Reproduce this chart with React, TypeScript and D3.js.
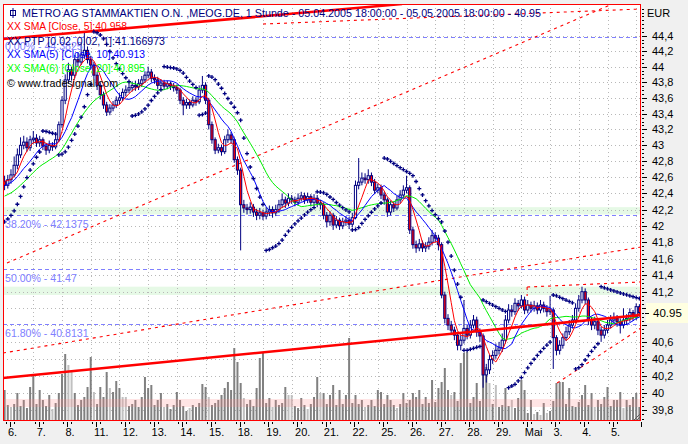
import React from 'react';
import * as d3 from 'd3';

const W = 688, H = 444;
const PL = 3, PR = 641, PT = 4, PB = 421;

const dayLabels = ["6.","7.","8.","11.","12.","13.","14.","15.","18.","19.","20.","21.","22.","25.","26.","27.","28.","29.","Mai","3.","4.","5."];
const barsPerDay = 9;
const firstDayBar = 2;

const opens = [
42.55,42.50,42.57,42.63,42.75,42.88,43.00,43.04,42.97,43.07,
43.09,43.03,43.07,42.99,42.94,43.00,42.98,43.07,43.26,43.57,
43.83,43.96,43.89,44.09,44.06,44.15,44.21,44.09,44.02,43.89,
43.76,43.64,43.51,43.42,43.47,43.51,43.57,43.60,43.67,43.70,
43.73,43.76,43.74,43.78,43.83,43.89,43.93,43.85,43.83,43.76,
43.79,43.75,43.78,43.75,43.73,43.70,43.57,43.51,43.54,43.51,
43.57,43.55,43.70,43.76,43.57,43.26,43.07,42.94,42.97,42.92,
43.07,43.13,43.07,42.82,42.69,42.26,42.22,42.20,42.23,42.17,
42.13,42.16,42.12,42.17,42.20,42.16,42.20,42.26,42.32,42.28,
42.34,42.32,42.29,42.34,42.37,42.32,42.36,42.29,42.34,42.28,
42.26,42.13,42.05,42.13,42.01,42.07,42.00,42.05,42.07,42.02,
42.10,42.50,42.54,42.59,42.57,42.62,42.54,42.44,42.47,42.38,
42.32,42.17,42.26,42.22,42.32,42.38,42.44,42.47,41.95,41.77,
41.73,41.78,41.73,41.75,41.80,41.88,41.85,41.77,41.16,40.88,
40.80,40.74,40.68,40.56,40.62,40.76,40.68,40.80,40.86,40.72,
40.67,40.21,40.27,40.39,40.44,40.50,40.53,40.62,40.86,40.98,
40.96,41.06,41.03,41.10,40.98,41.04,41.00,41.03,40.98,41.04,
41.00,40.96,40.98,40.65,40.50,40.56,40.65,40.72,40.80,40.86,
41.00,41.10,41.20,41.10,40.86,40.80,40.84,40.74,40.68,40.74,
40.80,40.86,40.88,40.84,40.80,40.86,40.88,40.95,40.90,41.02
];

const highs = [
42.62,42.63,42.70,42.86,42.96,43.10,43.12,43.10,43.12,43.18,
43.14,43.12,43.10,43.03,43.06,43.04,43.12,43.30,43.62,43.90,
44.05,44.00,44.15,44.18,44.30,44.45,44.26,44.14,44.06,43.93,
43.80,43.68,43.55,43.52,43.56,43.62,43.66,43.72,43.76,43.79,
43.81,43.82,43.84,43.88,43.94,44.00,43.97,43.90,43.87,43.84,
43.83,43.82,43.81,43.79,43.77,43.73,43.61,43.59,43.58,43.62,
43.61,43.76,43.88,43.80,43.60,43.30,43.10,43.02,43.01,43.12,
43.20,43.17,43.10,42.86,42.72,42.32,42.27,42.29,42.27,42.21,
42.22,42.20,42.23,42.25,42.24,42.26,42.32,42.40,42.36,42.40,
42.38,42.36,42.40,42.42,42.41,42.41,42.39,42.39,42.38,42.32,
42.29,42.17,42.18,42.16,42.12,42.10,42.10,42.12,42.11,42.16,
42.56,42.84,42.66,42.65,42.70,42.66,42.58,42.52,42.51,42.42,
42.35,42.31,42.30,42.37,42.44,42.50,42.62,42.50,41.99,41.82,
41.84,41.82,41.80,41.86,41.95,41.92,41.89,41.80,41.20,40.93,
40.85,40.78,40.72,40.68,41.10,40.80,40.86,40.92,40.90,40.76,
40.70,40.34,40.45,40.50,40.58,40.60,40.70,40.92,41.05,41.04,
41.12,41.10,41.16,41.14,41.10,41.08,41.09,41.07,41.10,41.08,
41.04,41.15,41.01,40.68,40.62,40.70,40.78,40.86,40.92,41.06,
41.16,41.26,41.24,41.13,40.90,40.90,40.88,40.78,40.80,40.86,
40.92,40.95,40.92,40.88,41.00,40.93,41.00,40.98,41.06,41.05
];

const lows = [
42.44,42.46,42.52,42.60,42.70,42.84,42.95,42.92,42.93,43.02,
42.98,42.98,42.94,42.88,42.90,42.93,42.95,43.04,43.22,43.52,
43.78,43.82,43.85,44.00,44.02,44.10,44.04,43.96,43.84,43.70,
43.58,43.46,43.37,43.38,43.43,43.47,43.52,43.56,43.62,43.66,
43.68,43.69,43.70,43.74,43.79,43.85,43.80,43.78,43.71,43.72,
43.70,43.71,43.70,43.68,43.65,43.52,43.38,43.46,43.46,43.48,
43.50,43.52,43.66,43.52,43.20,43.02,42.89,42.90,42.87,42.89,
43.03,43.02,42.78,42.63,41.70,42.16,42.14,42.15,42.11,42.07,
42.08,42.07,42.08,42.12,42.10,42.12,42.16,42.22,42.22,42.24,
42.27,42.24,42.25,42.30,42.27,42.28,42.24,42.25,42.23,42.20,
42.08,41.98,42.00,41.95,41.97,41.95,41.96,42.00,41.96,41.98,
42.08,42.45,42.50,42.52,42.52,42.49,42.39,42.40,42.33,42.26,
42.11,42.13,42.17,42.19,42.28,42.34,42.40,41.90,41.72,41.67,
41.69,41.68,41.68,41.71,41.76,41.80,41.70,41.12,40.82,40.74,
40.68,40.62,40.50,40.50,40.58,40.63,40.64,40.76,40.66,40.60,
40.06,40.12,40.22,40.34,40.40,40.45,40.48,40.58,40.82,40.90,
40.92,40.97,41.00,40.93,40.94,40.95,40.96,40.93,40.94,40.95,
40.90,40.92,40.28,40.44,40.45,40.52,40.61,40.68,40.76,40.82,
40.96,41.06,41.05,40.80,40.74,40.75,40.68,40.60,40.64,40.70,
40.76,40.82,40.78,40.70,40.76,40.80,40.84,40.85,40.86,40.90
];

const closes = [
42.50,42.57,42.63,42.75,42.88,43.00,43.04,42.97,43.07,43.09,
43.03,43.07,42.99,42.94,43.00,42.98,43.07,43.26,43.57,43.83,
43.96,43.89,44.09,44.06,44.15,44.21,44.09,44.02,43.89,43.76,
43.64,43.51,43.42,43.47,43.51,43.57,43.60,43.67,43.70,43.73,
43.76,43.74,43.78,43.83,43.89,43.93,43.85,43.83,43.76,43.79,
43.75,43.78,43.75,43.73,43.70,43.57,43.51,43.54,43.51,43.57,
43.55,43.70,43.76,43.57,43.26,43.07,42.94,42.97,42.92,43.07,
43.13,43.07,42.82,42.69,42.26,42.22,42.20,42.23,42.17,42.13,
42.16,42.12,42.17,42.20,42.16,42.20,42.26,42.32,42.28,42.34,
42.32,42.29,42.34,42.37,42.32,42.36,42.29,42.34,42.28,42.26,
42.13,42.05,42.13,42.01,42.07,42.00,42.05,42.07,42.02,42.10,
42.50,42.54,42.59,42.57,42.62,42.54,42.44,42.47,42.38,42.32,
42.17,42.26,42.22,42.32,42.38,42.44,42.47,41.95,41.77,41.73,
41.78,41.73,41.75,41.80,41.88,41.85,41.77,41.16,40.88,40.80,
40.74,40.68,40.56,40.62,40.76,40.68,40.80,40.86,40.72,40.67,
40.21,40.27,40.39,40.44,40.50,40.53,40.62,40.86,40.98,40.96,
41.06,41.03,41.10,40.98,41.04,41.00,41.03,40.98,41.04,41.00,
40.96,40.98,40.65,40.50,40.56,40.65,40.72,40.80,40.86,41.00,
41.10,41.20,41.10,40.86,40.80,40.84,40.74,40.68,40.74,40.80,
40.86,40.88,40.84,40.80,40.86,40.88,40.95,40.90,41.02,40.95
];

// closes of the hours before the visible range (feed the moving averages)
const priorCloses = [42.18,42.22,42.20,42.25,42.28,42.24,42.26,42.22,42.27,42.28,42.35,42.42,42.46,42.45,42.50,42.52,42.55,42.58,42.60];

const volumes = [
31,16,14,17,28,15,21,13,34,47,
17,31,21,15,26,12,18,28,47,67,
56,49,28,16,21,24,34,64,29,17,
34,24,49,33,29,40,33,24,24,15,
17,21,14,24,44,33,36,16,21,28,
14,17,12,16,29,21,15,10,13,16,
14,18,37,34,24,16,18,21,26,33,
39,31,73,59,38,23,17,21,15,33,
63,68,18,23,14,21,16,18,34,26,
26,15,13,23,16,12,17,24,44,28,
28,17,26,36,16,31,17,26,83,18,
26,17,21,14,16,21,15,31,29,17,
26,21,16,13,17,28,18,21,28,24,
31,17,24,18,41,19,33,39,53,31,
26,29,20,58,68,69,18,24,38,20,
54,54,38,17,36,14,16,33,15,21,
13,23,41,31,8,21,7,9,6,18,
8,10,20,38,39,39,17,33,15,14,
19,26,36,16,28,14,21,17,24,34,
15,21,21,29,13,21,16,24,28,14
];
const lightVolumeBars = [2,15,20,21,28,33,37,38,50,58,64,75,84,89,90,95,99,113,123,140,152,154,159,166,168,170,185,194];

const priceTicks = [44.4,44.2,44,43.8,43.6,43.4,43.2,43,42.8,42.6,42.4,42.2,42,41.8,41.6,41.4,41.2,41,40.8,40.6,40.4,40.2,40,39.8];
const priceTickLabels = ["44,4","44,2","44","43,8","43,6","43,4","43,2","43","42,8","42,6","42,4","42,2","42","41,8","41,6","41,4","41,2","41","40,8","40,6","40,4","40,2","40","39,8"];

const fibLevels = [44.3825, 42.1375, 41.47, 40.8131];
const fibLabels = ["0.00% - 44.3825", "38.20% - 42.1375", "50.00% - 41.47", "61.80% - 40.8131"];
const zoneLow = [42.14, 41.16];
const zoneHigh = [42.23, 41.26];
const volumeBand = [14, 22];

// trend lines: [bar1, price1, bar2, price2]
const thickTrendLines = [[-0.5, 40.174, 199.5, 40.92], [-0.5, 44.357, 124.6, 44.812]];
const dashedTrendLines = [
  [0.75, 41.547, 190.4, 44.81],
  [-0.5, 40.468, 199.5, 41.741],
  [81, 44.551, 199.5, 44.747],
  [163.8, 41.256, 199.5, 41.317],
  [163.8, 41.256, 163.8, 41.148],
  [173.2, 40.115, 199.5, 40.765],
];

const sarParams = { step: 0.02, max: 0.2, startSar: 42.05, startEp: 42.62, startAf: 0.06 };

const legendTexts = [
  "XX SMA [Close, 5]:40.958",
  "XX PTP [0.02, 0.02, 1]:41.166973",
  "XX SMA(5) [Close, 10]:40.913",
  "XX SMA(6) [Close, 20]:40.895",
  "\u00A9 www.tradesignal.com",
];
const titleText = "METRO AG STAMMAKTIEN O.N. ,MEOG.DE, 1 Stunde - 05.04.2005 18:00:00 - 05.05.2005 18:00:00 - 40.95";
const lastPriceLabel = "40.95";
const lastPrice = 40.95;

function psar(h: number[], l: number[]) {
  let up = true;
  let af = sarParams.startAf, ep = sarParams.startEp, sar = sarParams.startSar;
  const out: number[] = [];
  for (let i = 0; i < h.length; i++) {
    if (i > 0) {
      sar = sar + af * (ep - sar);
      if (up) {
        sar = Math.min(sar, l[i - 1], i > 1 ? l[i - 2] : l[i - 1]);
        if (l[i] < sar) { up = false; sar = ep; ep = l[i]; af = sarParams.step; }
        else if (h[i] > ep) { ep = h[i]; af = Math.min(af + sarParams.step, sarParams.max); }
      } else {
        sar = Math.max(sar, h[i - 1], i > 1 ? h[i - 2] : h[i - 1]);
        if (h[i] > sar) { up = true; sar = ep; ep = h[i]; af = sarParams.step; }
        else if (l[i] < ep) { ep = l[i]; af = Math.min(af + sarParams.step, sarParams.max); }
      }
    }
    out.push(sar);
  }
  return out;
}

export default function App() {
  const n = closes.length;
  const x = d3.scaleLinear().domain([-0.5, n - 0.5]).range([PL, PR]);
  const y = d3.scaleLog().domain([39.8, 44.4]).range([410, 35.65]);
  const vy = d3.scaleLinear().domain([0, 91]).range([PB, PB - 91]);

  const all = [...priorCloses, ...closes];
  const sma = (len: number) => closes.map((_, i) => d3.mean(all.slice(i + priorCloses.length - len + 1, i + priorCloses.length + 1)) as number);
  const sma5 = sma(5), sma10 = sma(10), sma20 = sma(20);
  const line = d3.line<number>().x((_, i) => x(i)).y((d) => y(d));
  const sar = psar(highs, lows);

  const font = "'Liberation Sans', Arial, sans-serif";
  const grid = "#b8b8b8";
  const navy = "#000080";

  const dayTicks = dayLabels.map((_, k) => x(firstDayBar + k * barsPerDay) - 1);
  const vGrid = dayLabels.map((_, k) => x(firstDayBar + 7 + k * barsPerDay));
  const minorTicks = d3.range(39.7, 44.8, 0.05);
  const boxY = Math.round(y(lastPrice)) - 10;

  return (
    <svg width={W} height={H} style={{ position: 'absolute', left: 0, top: 0, fontFamily: font }}>
      <defs>
        <clipPath id="plotClip"><rect x={PL} y={PT} width={PR - PL} height={PB - PT} /></clipPath>
      </defs>
      <rect width={W} height={H} fill="#f0f0f0" />
      <rect x={PL} y={PT} width={PR - PL} height={PB - PT} fill="#ffffff" />
      <g clipPath="url(#plotClip)">
        {zoneLow.map((lo, k) => (
          <rect key={'z' + k} x={PL} width={PR - PL} y={y(zoneHigh[k])} height={y(lo) - y(zoneHigh[k])} fill="#e6f9e6" />
        ))}
        {priceTicks.map((p) => (
          <line key={'hg' + p} x1={PL} x2={PR} y1={Math.round(y(p)) + 0.5} y2={Math.round(y(p)) + 0.5} stroke={grid} strokeDasharray="1,3" />
        ))}
        {vGrid.map((gx, k) => (
          <line key={'vg' + k} x1={Math.round(gx) + 0.5} x2={Math.round(gx) + 0.5} y1={PT} y2={PB} stroke={grid} strokeDasharray="1,3" />
        ))}
        {fibLevels.map((f) => (
          <line key={'f' + f} x1={PL} x2={PR} y1={Math.round(y(f)) + 0.5} y2={Math.round(y(f)) + 0.5} stroke="#8080ff" strokeDasharray="4,3" />
        ))}
        {volumes.map((v, i) => (
          <rect key={'v' + i} x={x(i) - 1} width={2} y={vy(v)} height={PB - vy(v)}
            fill={lightVolumeBars.includes(i) ? "#c0c0c0" : "#808080"} />
        ))}
        <rect x={PL} width={PR - PL} y={vy(volumeBand[1])} height={vy(volumeBand[0]) - vy(volumeBand[1])} fill="#ff8888" opacity={0.22} />
        {dashedTrendLines.map((t, k) => (
          <line key={'dt' + k} x1={x(t[0])} y1={y(t[1])} x2={x(t[2])} y2={y(t[3])} stroke="#ff0000" strokeWidth={1.1} strokeDasharray="3,4" />
        ))}
        {closes.map((c, i) => {
          const o = opens[i];
          const top = y(Math.max(o, c)), bot = y(Math.min(o, c));
          const cx = x(i);
          return (
            <g key={'c' + i}>
              <line x1={cx} x2={cx} y1={y(highs[i])} y2={y(lows[i])} stroke={navy} strokeWidth={1} />
              <rect x={cx - 1.1} width={2.2} y={top} height={Math.max(bot - top, 0.6)} fill={c < o ? "#ff0000" : "#ffffff"} stroke={navy} strokeWidth={1} />
            </g>
          );
        })}
        <path d={line(sma20) || ''} fill="none" stroke="#00ee00" strokeWidth={1} />
        <path d={line(sma10) || ''} fill="none" stroke="#0000ff" strokeWidth={1} />
        <path d={line(sma5) || ''} fill="none" stroke="#ff0000" strokeWidth={1} />
        {thickTrendLines.map((t, k) => (
          <line key={'tt' + k} x1={x(t[0])} y1={y(t[1])} x2={x(t[2])} y2={y(t[3])} stroke="#ff0000" strokeWidth={2.6} />
        ))}
        {sar.map((s, i) => {
          const sx = x(i), sy = y(s);
          return <path key={'s' + i} d={`M${sx - 2},${sy}h4M${sx},${sy - 2}v4`} stroke={navy} strokeWidth={1.3} fill="none" />;
        })}
        <path d={`M${PR - 7},${PB - 1}L${PR - 1},${PB - 7}M${PR - 4},${PB - 1}L${PR - 1},${PB - 4}`} stroke="#606060" strokeWidth={1} />
      </g>
      <rect x={PL + 0.5} y={PT + 0.5} width={PR - PL - 1} height={PB - PT - 1} fill="none" stroke="#ff0000" strokeWidth={1} />

      {fibLevels.map((f, k) => (
        <text key={'fl' + k} x={5} y={Math.round(y(f)) + 12.5} fontSize={10.6} fill="#8080ff">{fibLabels[k]}</text>
      ))}

      {/* title & legend */}
      <g stroke={navy} fill="none" strokeWidth={1}>
        <rect x={10.5} y={10.5} width={5} height={5} />
        <line x1={13} x2={13} y1={8} y2={18} />
      </g>
      <text x={22} y={17} fontSize={11} fill={navy} textLength={519} lengthAdjust="spacingAndGlyphs">{titleText}</text>
      <text x={7} y={30} fontSize={11} fill="#ff0000" textLength={120} lengthAdjust="spacingAndGlyphs">{legendTexts[0]}</text>
      <text x={7} y={45} fontSize={11} fill={navy} textLength={158} lengthAdjust="spacingAndGlyphs">{legendTexts[1]}</text>
      <text x={7} y={58} fontSize={11} fill="#0000ff" textLength={138} lengthAdjust="spacingAndGlyphs">{legendTexts[2]}</text>
      <text x={7} y={72} fontSize={11} fill="#00ff00" textLength={138} lengthAdjust="spacingAndGlyphs">{legendTexts[3]}</text>
      <text x={7} y={87} fontSize={11} fill="#000000" textLength={111} lengthAdjust="spacingAndGlyphs">{legendTexts[4]}</text>

      {/* right axis */}
      <text x={647} y={17} fontSize={11} fill="#000">EUR</text>
      {minorTicks.map((m, k) => (
        y(m) > PT && y(m) < PB ? <line key={'mt' + k} x1={642} x2={644} y1={Math.round(y(m)) + 0.5} y2={Math.round(y(m)) + 0.5} stroke="#000" /> : null
      ))}
      {priceTicks.map((p, k) => {
        const ty = y(p);
        const hidden = ty > boxY - 4 && ty < boxY + 24;
        return (
          <g key={'pt' + k}>
            <line x1={642} x2={647} y1={Math.round(ty) + 0.5} y2={Math.round(ty) + 0.5} stroke="#000" />
            {hidden ? null : <text x={652} y={ty + 4} fontSize={11} fill="#000">{priceTickLabels[k]}</text>}
          </g>
        );
      })}
      <rect x={646} y={boxY} width={42} height={20} fill="#ffffe1" />
      <line x1={645} x2={649} y1={Math.round(y(lastPrice)) + 0.5} y2={Math.round(y(lastPrice)) + 0.5} stroke="#000" />
      <text x={653} y={y(lastPrice) + 4} fontSize={11.5} fill="#000">{lastPriceLabel}</text>

      {/* bottom axis */}
      {dayTicks.map((tx, k) => (
        <g key={'dt' + k}>
          <line x1={Math.round(tx) + 0.5} x2={Math.round(tx) + 0.5} y1={PB + 1} y2={PB + 6} stroke="#000" />
          <line x1={Math.round(tx) - 3.5} x2={Math.round(tx) - 3.5} y1={PB + 1} y2={PB + 3} stroke="#000" />
          <line x1={Math.round(tx) + 4.5} x2={Math.round(tx) + 4.5} y1={PB + 1} y2={PB + 3} stroke="#000" />
          <text x={tx - 2} y={436} fontSize={11} fill="#000">{dayLabels[k]}</text>
        </g>
      ))}
      <line x1={PR + 0.5} x2={PR + 0.5} y1={PB + 1} y2={PB + 6} stroke="#000" />
    </svg>
  );
}
